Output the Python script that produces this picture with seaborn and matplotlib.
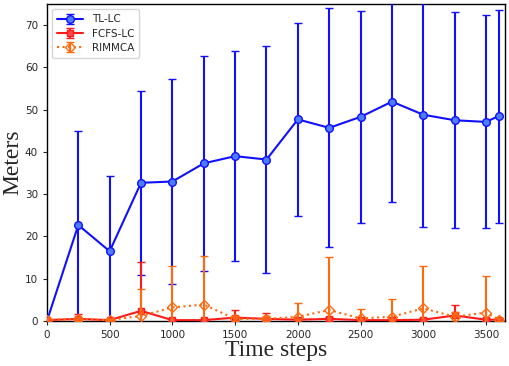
import matplotlib
matplotlib.use('Agg')
import matplotlib.pyplot as plt
import seaborn as sns
import numpy as np

# time steps
steps = [0, 250, 500, 750, 1000, 1250, 1500, 1750, 2000, 2250, 2500, 2750, 3000, 3250, 3500, 3600]

# TL-LC
tl_mean = [0.0, 22.7, 16.5, 32.7, 33.0, 37.3, 39.0, 38.2, 47.7, 45.7, 48.3, 51.9, 48.8, 47.5, 47.1, 48.5]
tl_err = [0.0, 22.3, 17.7, 21.8, 24.2, 25.4, 24.9, 26.9, 22.9, 28.3, 25.0, 23.7, 26.5, 25.5, 25.2, 25.2]

# FCFS-LC
fc_mean = [0.2, 0.5, 0.2, 2.4, 0.2, 0.2, 0.8, 0.5, 0.3, 0.5, 0.2, 0.2, 0.3, 1.3, 0.3, 0.3]
fc_err = [0.2, 1.1, 0.3, 11.5, 0.3, 0.3, 1.8, 1.5, 0.5, 0.4, 0.3, 0.3, 0.4, 2.6, 0.4, 0.3]

# RIMMCA
ri_mean = [0.3, 0.4, 0.2, 1.2, 3.2, 3.9, 0.5, 0.5, 1.0, 2.6, 0.6, 1.0, 3.0, 1.0, 2.0, 0.3]
ri_err = [0.3, 0.5, 0.3, 6.3, 9.8, 11.5, 0.6, 0.6, 3.3, 12.5, 2.2, 4.1, 10.1, 1.2, 8.7, 0.4]

sns.set_theme(style='ticks')
plt.rcParams['font.family'] = ['DejaVu Sans']

fig, ax = plt.subplots(figsize=(5.1, 3.66), dpi=100)
fig.subplots_adjust(left=0.092, right=0.99, top=0.989, bottom=0.123)

ax.errorbar(steps, tl_mean, yerr=tl_err, color='#1010ff', lw=1.5, capsize=3,
            marker='o', ms=5.5, mfc='#4d7dff', mec='#1010ff', label='TL-LC', zorder=3)
ax.errorbar(steps, fc_mean, yerr=fc_err, color='#ff1a1a', lw=1.5, capsize=3,
            marker='s', ms=5, mfc='#ff4d4d', mec='#ff1a1a', label='FCFS-LC', zorder=4)
ax.errorbar(steps, ri_mean, yerr=ri_err, color='#ff6a10', lw=1.5, ls=':', capsize=3,
            marker='D', ms=5, mfc='none', mec='#ff6a10', label='RIMMCA', zorder=5)

ax.set_xlim(0, 3650)
ax.set_ylim(0, 75)
ax.set_xticks(range(0, 3501, 500))
ax.set_yticks(range(0, 71, 10))
ax.tick_params(labelsize=7.5, length=3, width=0.8)
for s in ax.spines.values():
    s.set_linewidth(1.0)
    s.set_color('black')

ax.set_xlabel('Time steps', fontsize=17, family='Liberation Serif', labelpad=0)
ax.set_ylabel('Meters', fontsize=17, family='Liberation Serif', labelpad=1)

ax.legend(loc='upper left', fontsize=7.5, frameon=True, handlelength=2.5,
          borderpad=0.5, labelspacing=0.4)

plt.savefig('out.png', dpi=100)
